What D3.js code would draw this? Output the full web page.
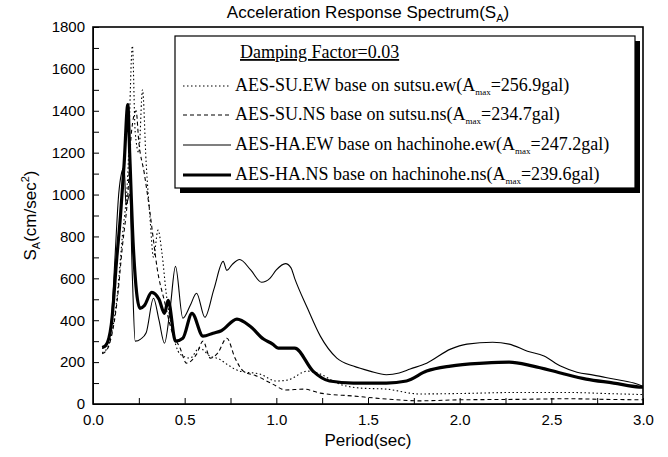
<!DOCTYPE html>
<html lang="en">
<head>
<meta charset="UTF-8" />
<title>Acceleration Response Spectrum</title>
<script src="https://d3js.org/d3.v7.min.js"></script>
<style>
  body { margin: 0; background: #fff; }
  svg { display: block; }
</style>
</head>
<body>
<svg width="668" height="457"></svg>
<script>
// period (sec) / SA (cm/sec^2) pairs
const suEW = [[0.05,245],[0.08,270],[0.1,330],[0.13,500],[0.16,800],[0.19,1100],[0.215,1710],[0.23,1300],[0.25,1200],[0.27,1500],[0.29,1150],[0.31,900],[0.33,700],[0.355,830],[0.375,729],[0.4,524],[0.43,362],[0.475,238],[0.53,219],[0.58,267],[0.64,228],[0.69,214],[0.73,190],[0.8,157],[0.91,143],[1.0,110],[1.06,114],[1.17,157],[1.24,143],[1.33,100],[1.46,76],[1.6,71],[1.78,48],[2.0,50],[2.3,55],[2.6,55],[2.8,50],[3.0,45]];
const suNS = [[0.05,240],[0.08,265],[0.1,320],[0.13,480],[0.16,750],[0.19,1000],[0.21,1300],[0.235,1400],[0.25,1250],[0.28,1100],[0.31,919],[0.33,780],[0.35,648],[0.39,490],[0.43,348],[0.475,267],[0.51,195],[0.565,238],[0.6,300],[0.64,219],[0.68,243],[0.73,314],[0.775,219],[0.82,157],[0.895,133],[0.98,95],[1.05,67],[1.15,71],[1.24,52],[1.42,38],[1.6,24],[1.78,15],[2.0,20],[2.3,22],[2.6,25],[2.8,22],[3.0,20]];
const haEW = [[0.05,265],[0.08,290],[0.1,400],[0.12,700],[0.14,1000],[0.155,1100],[0.17,1130],[0.18,950],[0.2,1000],[0.215,600],[0.23,300],[0.26,310],[0.29,340],[0.33,505],[0.36,400],[0.39,290],[0.42,450],[0.45,657],[0.49,410],[0.53,470],[0.565,529],[0.61,414],[0.66,550],[0.71,681],[0.73,638],[0.76,667],[0.8,690],[0.86,640],[0.92,581],[0.965,600],[1.0,640],[1.05,670],[1.08,650],[1.1,600],[1.17,457],[1.24,324],[1.33,219],[1.42,181],[1.51,157],[1.6,140],[1.67,148],[1.73,167],[1.82,195],[1.95,262],[2.04,286],[2.18,295],[2.27,286],[2.37,252],[2.46,229],[2.55,181],[2.64,152],[2.73,138],[2.84,119],[2.95,100],[3.0,85]];
const haNS = [[0.05,270],[0.07,280],[0.1,380],[0.13,700],[0.15,900],[0.17,1150],[0.19,1430],[0.2,1200],[0.22,750],[0.256,457],[0.28,470],[0.32,533],[0.36,500],[0.39,433],[0.41,495],[0.45,300],[0.49,314],[0.54,433],[0.6,324],[0.655,338],[0.7,350],[0.785,405],[0.857,371],[0.93,310],[0.98,286],[1.01,267],[1.1,267],[1.2,157],[1.29,110],[1.42,100],[1.6,100],[1.71,110],[1.82,157],[1.95,181],[2.13,195],[2.27,200],[2.4,181],[2.55,148],[2.69,119],[2.84,100],[2.98,81],[3.0,80]];

const seriesNames = ["AES-SU.EW base on sutsu.ew", "AES-SU.NS base on sutsu.ns", "AES-HA.EW base on hachinohe.ew", "AES-HA.NS base on hachinohe.ns"];
const amax = ["256.9", "234.7", "247.2", "239.6"];
const xTicks = [0, 0.5, 1.0, 1.5, 2.0, 2.5, 3.0];
const yTicks = [0, 200, 400, 600, 800, 1000, 1200, 1400, 1600, 1800];

const svg = d3.select("svg");
const margin = { top: 27, right: 25, bottom: 53, left: 93 };
const width = 668 - margin.left - margin.right,
      height = 457 - margin.top - margin.bottom;
const g = svg.append("g").attr("transform", `translate(${margin.left},${margin.top})`);

const x = d3.scaleLinear().domain([0, 3]).range([0, width]);
const y = d3.scaleLinear().domain([0, 1800]).range([height, 0]);

const styles = [
  { w: 1.1, dash: "1.5,2.5" },
  { w: 1.1, dash: "4,3" },
  { w: 1.1, dash: null },
  { w: 3.2, dash: null }
];
const data = [suEW, suNS, haEW, haNS];

const line = d3.line().x(d => x(d[0])).y(d => y(d[1])).curve(d3.curveMonotoneX);

data.forEach((s, i) => {
  g.append("path")
    .datum(s)
    .attr("d", line)
    .attr("fill", "none")
    .attr("stroke", "#000")
    .attr("stroke-width", styles[i].w)
    .attr("stroke-linejoin", "round")
    .attr("stroke-dasharray", styles[i].dash);
});

// axes with inward ticks
g.append("g")
  .attr("transform", `translate(0,${height})`)
  .call(d3.axisBottom(x).tickValues(d3.range(0, 3.01, 0.25)).tickSize(-6).tickFormat(""));
g.append("g")
  .attr("transform", `translate(0,${height})`)
  .call(d3.axisBottom(x).tickValues(xTicks).tickSize(0).tickPadding(10).tickFormat(d3.format(".1f")))
  .call(a => a.select(".domain").remove());
g.append("g")
  .call(d3.axisLeft(y).tickValues(d3.range(0, 1801, 100)).tickSize(-6).tickFormat(""));
g.append("g")
  .call(d3.axisLeft(y).tickValues(yTicks).tickSize(0).tickPadding(8).tickFormat(d3.format("d")))
  .call(a => a.select(".domain").remove());
g.selectAll(".tick text").attr("font-family", "Liberation Sans, Arial, sans-serif").attr("font-size", 15).attr("fill", "#000");

g.append("rect")
  .attr("width", width).attr("height", height)
  .attr("fill", "none").attr("stroke", "#000").attr("stroke-width", 1.6);

// title
const title = svg.append("text")
  .attr("x", margin.left + width / 2).attr("y", 18)
  .attr("text-anchor", "middle")
  .attr("font-family", "Liberation Sans, Arial, sans-serif").attr("font-size", 17);
title.append("tspan").text("Acceleration Response Spectrum(S");
title.append("tspan").attr("font-size", 11).attr("dy", 4).text("A");
title.append("tspan").attr("dy", -4).text(")");

// axis labels
svg.append("text")
  .attr("x", margin.left + width / 2).attr("y", 446)
  .attr("text-anchor", "middle")
  .attr("font-family", "Liberation Sans, Arial, sans-serif").attr("font-size", 17)
  .text("Period(sec)");

const yl = svg.append("text")
  .attr("transform", `translate(36,${margin.top + height / 2}) rotate(-90)`)
  .attr("text-anchor", "middle")
  .attr("font-family", "Liberation Sans, Arial, sans-serif").attr("font-size", 17);
yl.append("tspan").text("S");
yl.append("tspan").attr("font-size", 11).attr("dy", 4).text("A");
yl.append("tspan").attr("dy", -4).text("(cm/sec");
yl.append("tspan").attr("font-size", 11).attr("dy", -7).text("2");
yl.append("tspan").attr("dy", 7).text(")");

// legend box with shadow
const lg = svg.append("g");
const lx = 175, ly = 36, lw = 460, lh = 152;
lg.append("rect").attr("x", lx + 5).attr("y", ly + 5).attr("width", lw).attr("height", lh).attr("fill", "#000");
lg.append("rect").attr("x", lx).attr("y", ly).attr("width", lw).attr("height", lh)
  .attr("fill", "#fff").attr("stroke", "#000").attr("stroke-width", 1.2);

const serif = "Liberation Serif, Times New Roman, serif";
lg.append("text")
  .attr("x", 240).attr("y", 58)
  .attr("font-family", serif).attr("font-size", 18)
  .attr("text-decoration", "underline")
  .text("Damping Factor=0.03");

const rowY = [86, 115, 145, 175];
seriesNames.forEach((name, i) => {
  lg.append("line")
    .attr("x1", 183).attr("x2", 231)
    .attr("y1", rowY[i]).attr("y2", rowY[i])
    .attr("stroke", "#000")
    .attr("stroke-width", styles[i].w)
    .attr("stroke-dasharray", styles[i].dash);
  const t = lg.append("text")
    .attr("x", 235).attr("y", rowY[i] + 5)
    .attr("font-family", serif).attr("font-size", 18);
  t.append("tspan").text(name + "(A");
  t.append("tspan").attr("font-size", 9).attr("dy", 4).text("max");
  t.append("tspan").attr("dy", -4).text("=" + amax[i] + "gal)");
});
</script>
</body>
</html>
